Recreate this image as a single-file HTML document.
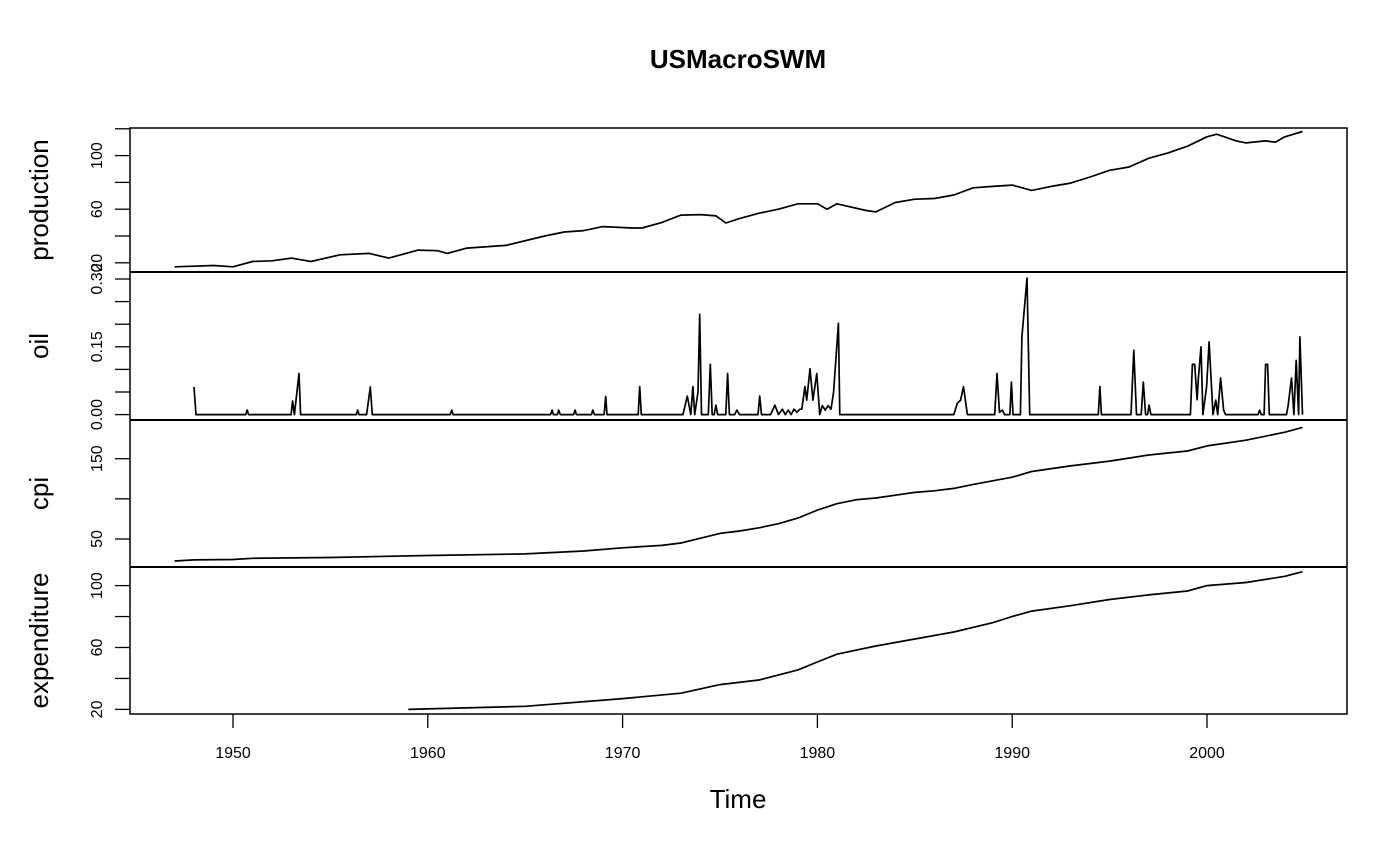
<!DOCTYPE html>
<html><head><meta charset="utf-8"><style>
html,body{margin:0;padding:0;background:#fff;}
svg{display:block;font-family:"Liberation Sans",sans-serif;}
</style></head><body>
<svg id="chart" width="1400" height="866" viewBox="0 0 1400 866"></svg>
<script>
// ---- data ----
const prodYears=[1947,1948,1949,1950,1951,1952,1953,1954,1955.5,1957,1958,1959.5,1960.5,1961,1962,1964,1966,1967,1968,1969,1970.5,1971,1972,1973,1974,1974.8,1975.3,1976,1977,1978,1979,1980,1980.5,1981,1982.5,1983,1984,1985,1986,1987,1988,1989,1990,1991,1992,1993,1994,1995,1996,1997,1998,1999,2000,2000.5,2001.5,2002,2003,2003.5,2004,2004.9];
const prodValues=[17,17.5,18,17,21,21.5,23.5,21,26,27,23.5,29.5,29,27,31,33,40,43,44,47,46,46,50,55.6,56,55,49.7,53,57,60,64,64,60,64,59,58,65,67.5,68,70.6,76,77,78,74,77,79.5,84,89,91.5,98,102,107,114,116,111,109.5,111,110,114,118];
const oilYears=[1948.0,1948.1,1950.65,1950.73,1950.8,1952.98,1953.06,1953.15,1953.39,1953.47,1956.33,1956.40,1956.47,1956.86,1957.05,1957.15,1961.15,1961.23,1961.3,1966.3,1966.38,1966.45,1966.65,1966.72,1966.8,1967.48,1967.56,1967.63,1968.4,1968.47,1968.55,1969.05,1969.13,1969.2,1970.8,1970.88,1970.96,1973.1,1973.32,1973.5,1973.61,1973.7,1973.87,1973.96,1974.05,1974.4,1974.50,1974.6,1974.7,1974.79,1974.88,1975.3,1975.39,1975.48,1975.75,1975.86,1976.0,1976.95,1977.04,1977.13,1977.6,1977.82,1978.0,1978.2,1978.35,1978.5,1978.65,1978.8,1978.95,1979.1,1979.2,1979.36,1979.45,1979.62,1979.77,1979.97,1980.12,1980.25,1980.4,1980.55,1980.7,1980.83,1981.08,1981.15,1987.0,1987.18,1987.35,1987.50,1987.7,1989.1,1989.22,1989.35,1989.5,1989.6,1989.88,1989.96,1990.04,1990.42,1990.50,1990.76,1990.9,1994.42,1994.50,1994.58,1996.1,1996.24,1996.38,1996.62,1996.73,1996.85,1996.95,1997.03,1997.12,1999.15,1999.25,1999.37,1999.49,1999.56,1999.69,1999.79,1999.98,2000.11,2000.31,2000.45,2000.55,2000.70,2000.85,2000.95,2002.62,2002.70,2002.78,2002.93,2003.01,2003.11,2003.2,2004.08,2004.17,2004.34,2004.46,2004.58,2004.70,2004.77,2004.90];
const oilValues=[0.061,0,0,0.01,0,0,0.03,0,0.091,0,0,0.01,0,0,0.061,0,0,0.01,0,0,0.01,0,0,0.01,0,0,0.01,0,0,0.01,0,0,0.04,0,0,0.062,0,0,0.041,0,0.062,0,0.05,0.222,0,0,0.111,0,0,0.021,0,0,0.091,0,0,0.01,0,0,0.041,0,0,0.021,0,0.012,0,0.01,0,0.012,0.005,0.012,0.012,0.062,0.032,0.101,0.032,0.091,0,0.02,0.01,0.02,0.012,0.05,0.202,0,0,0.025,0.032,0.062,0,0,0.091,0.005,0.01,0,0,0.072,0,0,0.172,0.302,0,0,0.062,0,0,0.142,0,0,0.072,0,0,0.021,0,0,0.111,0.111,0.033,0.081,0.15,0,0.062,0.161,0,0.032,0,0.081,0.01,0,0,0.01,0,0,0.111,0.111,0,0,0.021,0.081,0,0.12,0,0.172,0];
const cpiYears=[1947,1948,1950,1951,1955,1960,1965,1968,1970,1972,1973,1974,1975,1976,1977,1978,1979,1980,1981,1982,1983,1984,1985,1986,1987,1988,1990,1991,1993,1995,1997,1999,2000,2002,2004,2004.9];
const cpiValues=[22.6,24,24.5,26,27,29.5,31.5,35,39,42,45,51,57,60,64,69,76,86,94,99,101,104.5,108,110,113,118,127,134,141,147,154.6,159.6,166,173,183,189];
const expYears=[1959,1965,1970,1973,1975,1977,1979,1980,1981,1983,1985,1987,1989,1990,1991,1993,1995,1997,1999,2000,2002,2004,2004.9];
const expValues=[20,22,27,30.5,36,39,45.5,50.6,55.7,61,65.5,70,76,80,83.5,87,91,94,96.5,100,102,106,109];
const xTicks=[1950,1960,1970,1980,1990,2000];
const prodTicks=[20,40,60,80,100,120], prodLabels=[20,60,100];
const oilTicks=[0,0.05,0.1,0.15,0.2,0.25,0.3], oilLabels=["0.00","0.15","0.30"], oilLabelVals=[0,0.15,0.3];
const cpiTicks=[50,100,150], cpiLabels=[50,150];
const expTicks=[20,40,60,80,100], expLabels=[20,60,100];

const NS="http://www.w3.org/2000/svg", svg=document.getElementById('chart');
function mk(t,a,p){const e=document.createElementNS(NS,t);for(const k in a)e.setAttribute(k,a[k]);(p||svg).appendChild(e);return e;}
const L=130,R=1347;
const xs=y=>233+(y-1950)*19.48;
const panels=[
 {name:'production',top:128,bot:272,y:v=>262.8-(v-20)*1.34,X:prodYears,V:prodValues,ticks:prodTicks,lv:prodLabels,lt:prodLabels.map(String)},
 {name:'oil',top:272,bot:420,y:v=>414.6-v*452,X:oilYears,V:oilValues,ticks:oilTicks,lv:oilLabelVals,lt:oilLabels},
 {name:'cpi',top:420,bot:567,y:v=>539-(v-50)*0.803,X:cpiYears,V:cpiValues,ticks:cpiTicks,lv:cpiLabels,lt:cpiLabels.map(String)},
 {name:'expenditure',top:567,bot:714,y:v=>709.4-(v-20)*1.5475,X:expYears,V:expValues,ticks:expTicks,lv:expLabels,lt:expLabels.map(String)}
];
const t=mk('text',{x:738,y:68,'text-anchor':'middle','font-size':'26','font-weight':'bold'});t.textContent='USMacroSWM';


panels.forEach(p=>{
  const g=mk('g',{});
  
  
  p.ticks.forEach(v=>{const ln=mk('line',{x1:L-15,x2:L,y1:p.y(v),y2:p.y(v),stroke:'#000','stroke-width':1.3},g);
    
    });
  p.lv.forEach((v,i)=>{const yy=p.y(v);const tx=mk('text',{x:0,y:0,transform:`translate(102,${yy}) rotate(-90)`,'text-anchor':'middle','font-size':'16'},g);
    tx.textContent=p.lt[i];
    
    });
  const ti=mk('text',{x:0,y:0,transform:`translate(48,${(p.top+p.bot)/2}) rotate(-90)`,'text-anchor':'middle','font-size':'26'},g);
  ti.textContent=p.name;
  
  
  const d=p.X.map((x,i)=>(i?'L':'M')+xs(x).toFixed(1)+' '+p.y(p.V[i]).toFixed(1)).join(' ');
  const path=mk('path',{d:d,fill:'none',stroke:'#000','stroke-width':1.7,'stroke-linejoin':'round'},g);
  
  
});
const frame=mk('rect',{x:L,y:128,width:R-L,height:586,fill:'none',stroke:'#000','stroke-width':1.5});


[272,420,567].forEach(y=>{const ln=mk('line',{x1:L,x2:R,y1:y,y2:y,stroke:'#000','stroke-width':2});
  
  });
xTicks.forEach(v=>{const x=xs(v);
  const ln=mk('line',{x1:x,x2:x,y1:714,y2:728,stroke:'#000','stroke-width':1.3});
  
  
  const tx=mk('text',{x:x,y:758,'text-anchor':'middle','font-size':'16'});tx.textContent=v;
  
  });
const xt=mk('text',{x:738,y:808,'text-anchor':'middle','font-size':'26'});xt.textContent='Time';


</script>
</body></html>
